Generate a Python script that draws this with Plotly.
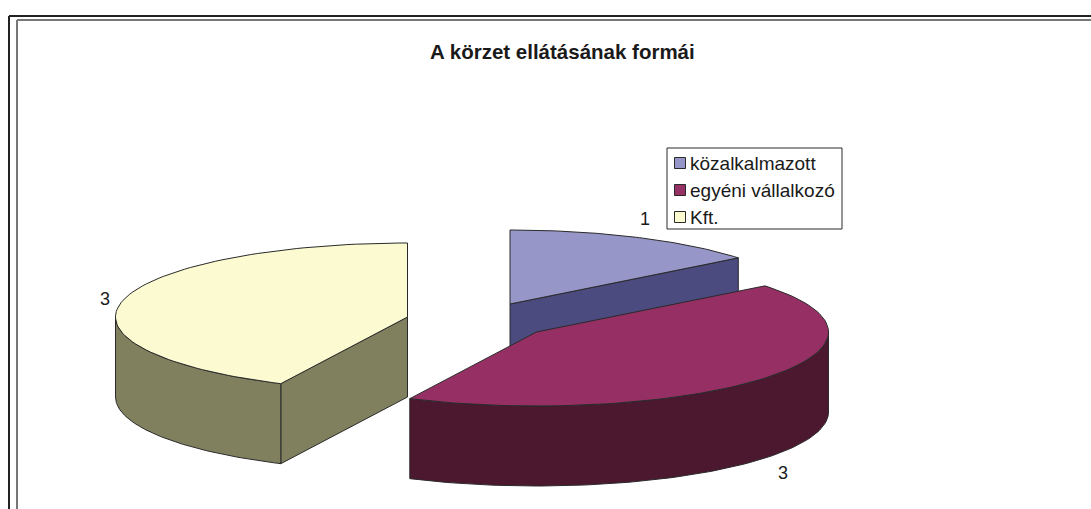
import math
import plotly.graph_objects as go

W, H = 1091, 509

# Data
categories = ["közalkalmazott", "egyéni vállalkozó", "Kft."]
values = [1, 3, 3]
top_colors = ["#9696c8", "#963064", "#fbfad0"]
side_colors = ["#4b4b80", "#4b1830", "#80805f"]
title = "A körzet ellátásának formái"

# Projection of the exploded 3-D pie onto the page
RX, RY, DEPTH = 292, 74, 80
apexes = [(510, 304), (536.5, 332), (407.5, 317)]
label_pos = [(645, 220), (783, 474), (105, 300)]
draw_order = [0, 2, 1]
INK = "#2a2a2a"
FONT = "Liberation Sans, Arial, sans-serif"


def rim(cx, cy, a0, a1, n=90, dz=0):
    pts = []
    for i in range(n + 1):
        a = math.radians(a0 + (a1 - a0) * i / n)
        pts.append((cx + RX * math.sin(a), cy - RY * math.cos(a) + dz))
    return pts


def poly(pts, color, name):
    xs = [p[0] for p in pts] + [pts[0][0]]
    ys = [p[1] for p in pts] + [pts[0][1]]
    return go.Scatter(x=xs, y=ys, mode="lines", fill="toself", fillcolor=color,
                      line=dict(color=INK, width=1), name=name,
                      showlegend=False, hoverinfo="skip")


total = sum(values)
spans = []
start = 0.0
for v in values:
    spans.append((start, start + 360.0 * v / total))
    start += 360.0 * v / total

fig = go.Figure()
for i in draw_order:
    a0, a1 = spans[i]
    cx, cy = apexes[i]
    name = categories[i]
    # radial walls whose outward normal faces the viewer
    for a, normal in ((a0, a0 - 90), (a1, a1 + 90)):
        if math.cos(math.radians(normal)) < -1e-6:
            e = rim(cx, cy, a, a, n=1)[0]
            fig.add_trace(poly([(cx, cy), e, (e[0], e[1] + DEPTH), (cx, cy + DEPTH)],
                               side_colors[i], name))
    # front-facing outer wall
    lo, hi = max(a0, 90), min(a1, 270)
    if lo < hi:
        upper = rim(cx, cy, lo, hi)
        lower = rim(cx, cy, lo, hi, dz=DEPTH)
        fig.add_trace(poly(upper + lower[::-1], side_colors[i], name))
    # top face
    fig.add_trace(poly([(cx, cy)] + rim(cx, cy, a0, a1), top_colors[i], name))

# Data labels
fig.add_trace(go.Scatter(x=[p[0] for p in label_pos], y=[p[1] for p in label_pos],
                         mode="text", text=[str(v) for v in values],
                         textfont=dict(family=FONT, size=18, color="#1a1a1a"),
                         showlegend=False, hoverinfo="skip"))

# Legend
LX0, LY0, LX1, LY1 = 667, 148, 842, 229
rows = [163, 190, 217]
fig.add_trace(go.Scatter(x=[680] * 3, y=rows, mode="markers",
                         marker=dict(symbol="square", size=11, color=top_colors,
                                     line=dict(color=INK, width=1)),
                         showlegend=False, hoverinfo="skip"))

annotations = [dict(x=688, y=r, xref="x", yref="y", text=c, showarrow=False,
                    xanchor="left", yanchor="middle",
                    font=dict(family=FONT, size=19, color="#1a1a1a"))
               for c, r in zip(categories, rows)]
annotations.append(dict(x=562, y=51, xref="x", yref="y", text=f"<b>{title}</b>",
                        showarrow=False, xanchor="center", yanchor="middle",
                        font=dict(family=FONT, size=20.5, color="#1a1a1a")))

shapes = [
    dict(type="rect", xref="x", yref="y", x0=LX0, y0=LY0, x1=LX1, y1=LY1,
         line=dict(color=INK, width=1), fillcolor="white", layer="below"),
    dict(type="line", xref="x", yref="y", x0=9, y0=16, x1=W, y1=16, line=dict(color="#222222", width=2)),
    dict(type="line", xref="x", yref="y", x0=9, y0=16, x1=9, y1=H, line=dict(color="#222222", width=2)),
    dict(type="line", xref="x", yref="y", x0=17, y0=20, x1=W, y1=20, line=dict(color="#777777", width=2)),
    dict(type="line", xref="x", yref="y", x0=17, y0=20, x1=17, y1=H, line=dict(color="#777777", width=2)),
]

fig.update_layout(
    width=W, height=H, margin=dict(l=0, r=0, t=0, b=0), autosize=False,
    paper_bgcolor="white", plot_bgcolor="white", showlegend=False,
    xaxis=dict(range=[0, W], visible=False, fixedrange=True),
    yaxis=dict(range=[H, 0], visible=False, fixedrange=True),
    annotations=annotations, shapes=shapes,
)
fig.write_html("out.html", config=dict(displayModeBar=False),
               post_script="document.body.style.margin='0';document.body.style.overflow='hidden';")
